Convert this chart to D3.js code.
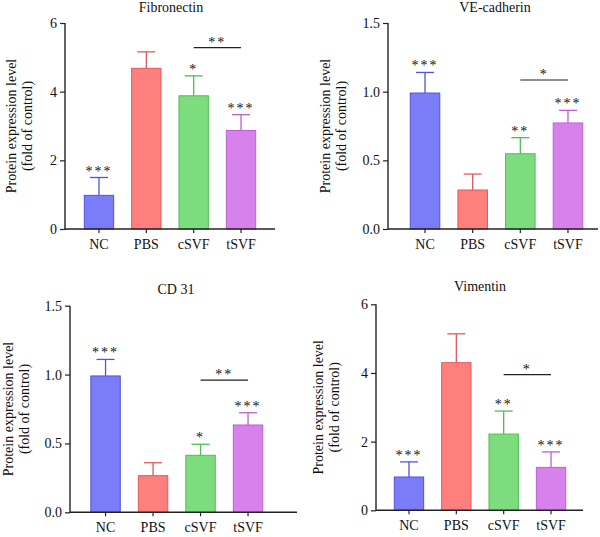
<!DOCTYPE html>
<html>
<head>
<meta charset="utf-8">
<script src="https://cdn.jsdelivr.net/npm/d3@7"></script>
<style>
  body { margin: 0; background: #fff; }
  svg text { font-family: "Liberation Serif", "Times New Roman", serif; fill: #111; }
</style>
</head>
<body>
<svg width="600" height="537"></svg>
<script>
// data
const groups = ["NC", "PBS", "cSVF", "tSVF"];

const fibMean = [0.98, 4.68, 3.88, 2.87];
const fibErr  = [0.52, 0.48, 0.58, 0.46];
const fibStar = ["***", "", "*", "***"];
const fibPair = { label: "**", value: 5.28 };
const fibTicks = [0, 2, 4, 6];

const veMean = [0.99, 0.284, 0.548, 0.772];
const veErr  = [0.15, 0.116, 0.117, 0.092];
const veStar = ["***", "", "**", "***"];
const vePair = { label: "*", value: 1.085 };
const veTicks = [0, 0.5, 1.0, 1.5];

const cdMean = [0.99, 0.266, 0.414, 0.634];
const cdErr  = [0.12, 0.094, 0.08, 0.089];
const cdStar = ["***", "", "*", "***"];
const cdPair = { label: "**", value: 0.959 };
const cdTicks = [0, 0.5, 1.0, 1.5];

const vimMean = [0.97, 4.30, 2.22, 1.25];
const vimErr  = [0.44, 0.84, 0.67, 0.45];
const vimStar = ["***", "", "**", "***"];
const vimPair = { label: "*", value: 3.95 };
const vimTicks = [0, 2, 4, 6];

const fills   = ["#7b7cf8", "#ff7f7f", "#7ddc7d", "#d681ec"];
const strokes = ["#5252dc", "#e25a5a", "#4fbf4f", "#b862d2"];

const svg = d3.select("svg");

function drawPanel(title, mean, err, star, pair, ticks, fmt, box) {
  const g = svg.append("g");

  const x = d3.scaleBand()
    .domain(groups)
    .range([box.r0, box.r1])
    .paddingInner(0.38)
    .paddingOuter(0.19);

  const y = d3.scaleLinear()
    .domain([ticks[0], ticks[ticks.length - 1]])
    .range([box.bottom, box.top]);

  const rows = groups.map((k, i) => ({ k, m: mean[i], e: err[i], s: star[i], i }));

  // error bars (drawn first, bar covers the lower half)
  const cap = 9;
  rows.forEach(d => {
    const cx = x(d.k) + x.bandwidth() / 2;
    g.append("line")
      .attr("x1", cx).attr("x2", cx)
      .attr("y1", y(d.m)).attr("y2", y(d.m + d.e))
      .attr("stroke", strokes[d.i]).attr("stroke-width", 1.3);
    g.append("line")
      .attr("x1", cx - cap).attr("x2", cx + cap)
      .attr("y1", y(d.m + d.e)).attr("y2", y(d.m + d.e))
      .attr("stroke", strokes[d.i]).attr("stroke-width", 1.3);
  });

  g.selectAll("rect.bar")
    .data(rows)
    .join("rect")
    .attr("class", "bar")
    .attr("x", d => x(d.k))
    .attr("y", d => y(d.m))
    .attr("width", x.bandwidth())
    .attr("height", d => y(0) - y(d.m))
    .attr("fill", d => fills[d.i])
    .attr("stroke", d => strokes[d.i])
    .attr("stroke-width", 1);

  // stars over error bars
  g.selectAll("text.star")
    .data(rows.filter(d => d.s))
    .join("text")
    .attr("class", "star")
    .attr("x", d => x(d.k) + x.bandwidth() / 2)
    .attr("y", d => y(d.m + d.e) - 2)
    .attr("text-anchor", "middle")
    .attr("font-size", 14)
    .attr("letter-spacing", 2)
    .text(d => d.s);

  // cSVF vs tSVF bracket
  const px1 = x("cSVF") + x.bandwidth() / 2;
  const px2 = x("tSVF") + x.bandwidth() / 2;
  g.append("line")
    .attr("x1", px1).attr("x2", px2)
    .attr("y1", y(pair.value)).attr("y2", y(pair.value))
    .attr("stroke", "#222").attr("stroke-width", 1.2);
  g.append("text")
    .attr("x", (px1 + px2) / 2)
    .attr("y", y(pair.value) - 1)
    .attr("text-anchor", "middle")
    .attr("font-size", 14)
    .attr("letter-spacing", 2)
    .text(pair.label);

  // axes
  const yAxis = g.append("g")
    .attr("transform", `translate(${box.axisX},0)`)
    .call(d3.axisLeft(y).tickValues(ticks).tickFormat(d3.format(fmt)).tickSize(5).tickSizeOuter(0));
  yAxis.select(".domain").remove();
  yAxis.append("line")
    .attr("y1", box.top).attr("y2", box.bottom + 0.5)
    .attr("stroke", "#222").attr("stroke-width", 1.4);

  const xAxis = g.append("g")
    .attr("transform", `translate(0,${box.bottom})`)
    .call(d3.axisBottom(x).tickSize(4).tickSizeOuter(0));
  xAxis.select(".domain").remove();
  xAxis.append("line")
    .attr("x1", box.axisX).attr("x2", box.axisEnd)
    .attr("stroke", "#222").attr("stroke-width", 1.4);

  g.selectAll(".tick line").attr("stroke", "#222").attr("stroke-width", 1.2);
  g.selectAll(".tick text")
    .attr("font-size", 14)
    .attr("fill", "#111");
  yAxis.selectAll(".tick text").attr("x", -8);
  xAxis.selectAll(".tick text").attr("y", 10);

  // title
  g.append("text")
    .attr("x", box.titleX)
    .attr("y", box.titleY)
    .attr("text-anchor", "middle")
    .attr("font-size", 14)
    .text(title);

  // y label
  const midY = (box.top + box.bottom) / 2;
  const lab = g.append("text")
    .attr("transform", `translate(${box.labelX},${midY}) rotate(-90)`)
    .attr("text-anchor", "middle")
    .attr("font-size", 14);
  lab.append("tspan").attr("x", 0).attr("dy", 0).text("Protein expression level");
  lab.append("tspan").attr("x", 0).attr("dy", 16).text("(fold of control)");
}

drawPanel("Fibronectin", fibMean, fibErr, fibStar, fibPair, fibTicks, "d",
  { axisX: 65, axisEnd: 275, r0: 75.3, r1: 264.7, top: 23, bottom: 229, titleX: 171, titleY: 12, labelX: 16 });
drawPanel("VE-cadherin", veMean, veErr, veStar, vePair, veTicks, ".1f",
  { axisX: 388, axisEnd: 598, r0: 401.2, r1: 591.8, top: 23, bottom: 229, titleX: 495, titleY: 12, labelX: 330 });
drawPanel("CD 31", cdMean, cdErr, cdStar, cdPair, cdTicks, ".1f",
  { axisX: 70, axisEnd: 297, r0: 81.8, r1: 271.8, top: 305.7, bottom: 512.3, titleX: 176, titleY: 294, labelX: 13 });
drawPanel("Vimentin", vimMean, vimErr, vimStar, vimPair, vimTicks, "d",
  { axisX: 376, axisEnd: 583, r0: 385.3, r1: 574.7, top: 304.3, bottom: 510.3, titleX: 480, titleY: 291, labelX: 323 });
</script>
</body>
</html>
